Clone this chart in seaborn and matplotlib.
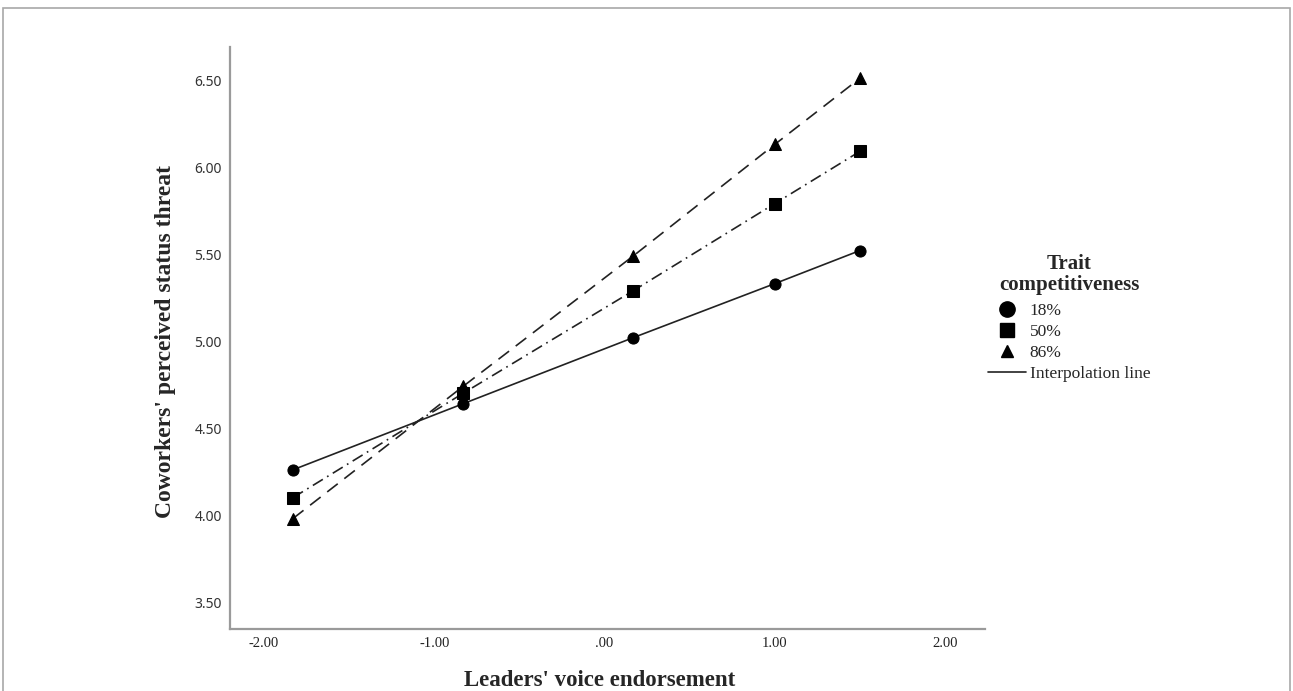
import matplotlib
matplotlib.use("Agg")
import matplotlib.pyplot as plt
import seaborn as sns
import pandas as pd
from matplotlib.lines import Line2D
from matplotlib.patches import Rectangle

# ---- data ----
x_vals = [-1.83, -0.83, 0.17, 1.00, 1.50]
low_18 = [4.26, 4.64, 5.02, 5.33, 5.52]
mid_50 = [4.10, 4.70, 5.29, 5.79, 6.09]
high_86 = [3.98, 4.74, 5.49, 6.13, 6.51]
groups = ["18%", "50%", "86%"]
x_ticks = [-2.0, -1.0, 0.0, 1.0, 2.0]
x_tick_labels = ["-2.00", "-1.00", ".00", "1.00", "2.00"]
y_ticks = [3.5, 4.0, 4.5, 5.0, 5.5, 6.0, 6.5]
y_tick_labels = ["3.50", "4.00", "4.50", "5.00", "5.50", "6.00", "6.50"]

df = pd.DataFrame({
    "x": x_vals * 3,
    "y": low_18 + mid_50 + high_86,
    "group": [g for g in groups for _ in x_vals],
})

sns.set_style("white")
serif = ["Liberation Serif", "DejaVu Serif"]

fig = plt.figure(figsize=(12.93, 6.91), dpi=100)
ax = fig.add_axes([230 / 1293, 62 / 691, 755 / 1293, 582 / 691])

sns.lineplot(
    data=df, x="x", y="y", style="group", ax=ax,
    markers={"18%": "o", "50%": "s", "86%": "^"},
    dashes={"18%": "", "50%": (7, 3, 1, 3), "86%": (8, 5)},
    color="#222222", linewidth=1.2, markersize=8,
    markeredgecolor="black", markerfacecolor="black", legend=False,
)

ax.set_xlim(-2.2, 2.235)
ax.set_ylim(3.345, 6.69)
ax.set_xticks(x_ticks)
ax.set_xticklabels(x_tick_labels, fontfamily=serif, fontsize=10.5, color="#222222")
ax.set_yticks(y_ticks)
ax.set_yticklabels(y_tick_labels, fontfamily="Noto Sans", fontsize=10, color="#333333")
ax.tick_params(axis="both", length=0)
ax.tick_params(axis="y", pad=6)
ax.tick_params(axis="x", pad=6)

for s in ["top", "right"]:
    ax.spines[s].set_visible(False)
for s in ["left", "bottom"]:
    ax.spines[s].set_color("#9a9a9a")
    ax.spines[s].set_linewidth(1.6)

ax.set_xlabel("Leaders' voice endorsement", fontfamily=serif, fontweight="bold",
              fontsize=16.5)
ax.xaxis.label.set_va("center")
ax.xaxis.set_label_coords(0.49, (629 - 680) / 582)
ax.set_ylabel("Coworkers' perceived status threat", fontfamily=serif,
              fontweight="bold", fontsize=17)
ax.yaxis.label.set_va("center")
ax.yaxis.set_label_coords((165 - 230) / 755, 0.5 - 4 / 582)

handles = [
    Line2D([], [], marker="o", linestyle="none", color="black", markersize=11),
    Line2D([], [], marker="s", linestyle="none", color="black", markersize=10),
    Line2D([], [], marker="^", linestyle="none", color="black", markersize=9),
    Line2D([], [], linestyle="-", color="#222222", linewidth=1.2),
]
labels = groups + ["Interpolation line"]
leg = fig.legend(
    handles, labels, title="Trait\ncompetitiveness",
    loc="upper left", bbox_to_anchor=(976 / 1293, 1 - 242 / 691),
    frameon=False, prop={"family": serif, "size": 12.5},
    handlelength=2.2, handletextpad=0.2, labelspacing=0.28, borderpad=0.2,
)
title = leg.get_title()
title.set_fontfamily(serif)
title.set_fontweight("bold")
title.set_fontsize(15)
title.set_multialignment("center")
title.set_linespacing(1.05)
leg._legend_box.sep = 6

# figure border
fig.patches.append(Rectangle((3 / 1293, -0.05), 1287 / 1293, 1 - 8 / 691 + 0.05,
                             transform=fig.transFigure, fill=False,
                             edgecolor="#a8a8a8", linewidth=1.2))

fig.savefig("out.png", dpi=100)
